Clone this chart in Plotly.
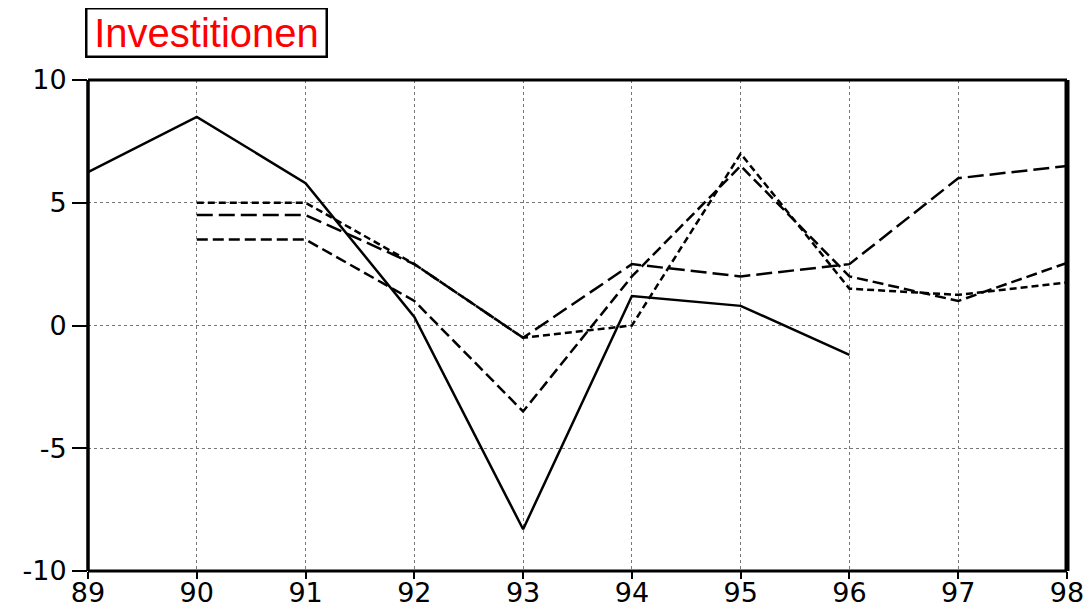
import plotly.graph_objects as go

years = [89, 90, 91, 92, 93, 94, 95, 96, 97, 98]
series_solid = [6.25, 8.5, 5.8, 0.35, -8.3, 1.2, 0.8, -1.2, None, None]
series_short = [None, 5.0, 5.0, 2.5, -0.5, 0.0, 7.0, 1.5, 1.25, 1.75]
series_long = [None, 4.5, 4.5, 2.5, -0.5, 2.5, 2.0, 2.5, 6.0, 6.5]
series_mid = [None, 3.5, 3.5, 1.0, -3.5, 2.0, 6.5, 2.0, 1.0, 2.55]
x_ticks = [89, 90, 91, 92, 93, 94, 95, 96, 97, 98]
y_ticks = [-10, -5, 0, 5, 10]
title_text = "Investitionen"

fig = go.Figure()
styles = [
    (series_solid, "solid"),
    (series_short, "7px,4px"),
    (series_long, "16px,6px"),
    (series_mid, "11px,5px"),
]
for vals, dash in styles:
    fig.add_trace(go.Scatter(x=years, y=vals, mode="lines",
                             line=dict(color="black", width=2.5, dash=dash),
                             connectgaps=False, showlegend=False))

axis_common = dict(
    showgrid=True, gridcolor="#777777", gridwidth=1, griddash="dot",
    zeroline=False, showline=False, automargin=False,
    ticks="outside", tickwidth=2, tickcolor="black",
    tickfont=dict(family="DejaVu Sans", size=27, color="black"),
)
fig.update_xaxes(range=[89, 98], tickvals=x_ticks, ticktext=[str(v) for v in x_ticks],
                 ticklen=7, ticklabelstandoff=-9, **axis_common)
fig.update_yaxes(range=[-10, 10], tickvals=y_ticks, ticktext=[str(v) for v in y_ticks],
                 ticklen=15, **axis_common)

# frame
fig.add_shape(type="line", xref="paper", yref="paper", x0=0, x1=0, y0=0, y1=1, line=dict(color="black", width=3.5))
fig.add_shape(type="line", xref="paper", yref="paper", x0=1, x1=1, y0=0, y1=1, line=dict(color="black", width=5))
fig.add_shape(type="line", xref="paper", yref="paper", x0=0, x1=1, y0=1, y1=1, line=dict(color="black", width=3))
fig.add_shape(type="line", xref="paper", yref="paper", x0=0, x1=1, y0=0, y1=0, line=dict(color="black", width=3))

fig.add_annotation(text=title_text, xref="paper", yref="paper", x=0, y=1,
                   xanchor="left", yanchor="bottom", xshift=-3, yshift=22,
                   width=234, height=42, align="center", valign="middle",
                   showarrow=False, bordercolor="black", borderwidth=2.5, borderpad=2,
                   bgcolor="white",
                   font=dict(family="Liberation Sans", size=40, color="red"))

fig.update_layout(width=1084, height=602, plot_bgcolor="white", paper_bgcolor="white",
                  margin=dict(l=80, r=25, t=72, b=39, autoexpand=False))
fig.write_html("out.html")
